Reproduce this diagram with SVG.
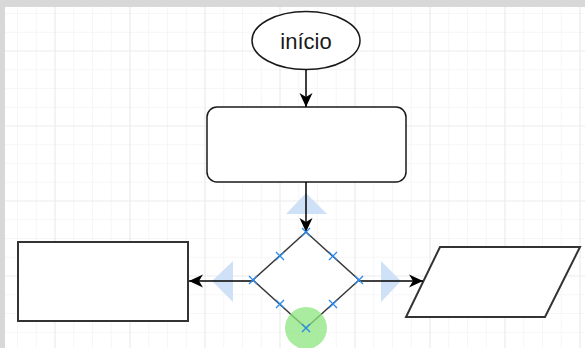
<svg xmlns="http://www.w3.org/2000/svg" width="585" height="348" viewBox="0 0 585 348">
  <defs>
    <style>
      .minor { stroke: #f6f6f6; stroke-width: 1; }
      .major { stroke: #ebebeb; stroke-width: 1.2; }
      .shape { fill: #ffffff; stroke: #1a1a1a; stroke-width: 1.5; }
      .heavy { fill: #ffffff; stroke: #333333; stroke-width: 2; }
      .edge { fill: none; stroke: #000000; stroke-width: 1.5; }
      .hint { fill: #cfe1f6; }
      .mark { stroke: #2b8ae8; stroke-width: 1.3; fill: none; }
      .label { font-family: "Liberation Sans", Arial, sans-serif; font-size: 22px; fill: #1a1a1a; }
    </style>
    <marker id="arrow" markerUnits="userSpaceOnUse" markerWidth="15" markerHeight="14" refX="14" refY="7" orient="auto">
      <path d="M0,0.5 L14,7 L0,13.5 L4,7 Z" fill="#000000"/>
    </marker>
  </defs>

  <rect x="0" y="0" width="585" height="348" fill="#d8d8d8"/>
  <rect x="5" y="7" width="580" height="341" fill="#ffffff"/>

  <g id="grid">
    <g class="minor">
      <line x1="17.5" y1="7" x2="17.5" y2="348"/>
      <line x1="36.25" y1="7" x2="36.25" y2="348"/>
      <line x1="73.75" y1="7" x2="73.75" y2="348"/>
      <line x1="92.5" y1="7" x2="92.5" y2="348"/>
      <line x1="111.25" y1="7" x2="111.25" y2="348"/>
      <line x1="148.75" y1="7" x2="148.75" y2="348"/>
      <line x1="167.5" y1="7" x2="167.5" y2="348"/>
      <line x1="186.25" y1="7" x2="186.25" y2="348"/>
      <line x1="223.75" y1="7" x2="223.75" y2="348"/>
      <line x1="242.5" y1="7" x2="242.5" y2="348"/>
      <line x1="261.25" y1="7" x2="261.25" y2="348"/>
      <line x1="298.75" y1="7" x2="298.75" y2="348"/>
      <line x1="317.5" y1="7" x2="317.5" y2="348"/>
      <line x1="336.25" y1="7" x2="336.25" y2="348"/>
      <line x1="373.75" y1="7" x2="373.75" y2="348"/>
      <line x1="392.5" y1="7" x2="392.5" y2="348"/>
      <line x1="411.25" y1="7" x2="411.25" y2="348"/>
      <line x1="448.75" y1="7" x2="448.75" y2="348"/>
      <line x1="467.5" y1="7" x2="467.5" y2="348"/>
      <line x1="486.25" y1="7" x2="486.25" y2="348"/>
      <line x1="523.75" y1="7" x2="523.75" y2="348"/>
      <line x1="542.5" y1="7" x2="542.5" y2="348"/>
      <line x1="561.25" y1="7" x2="561.25" y2="348"/>
      <line x1="5" y1="13.5" x2="585" y2="13.5"/>
      <line x1="5" y1="32.25" x2="585" y2="32.25"/>
      <line x1="5" y1="69.75" x2="585" y2="69.75"/>
      <line x1="5" y1="88.5" x2="585" y2="88.5"/>
      <line x1="5" y1="107.25" x2="585" y2="107.25"/>
      <line x1="5" y1="144.75" x2="585" y2="144.75"/>
      <line x1="5" y1="163.5" x2="585" y2="163.5"/>
      <line x1="5" y1="182.25" x2="585" y2="182.25"/>
      <line x1="5" y1="219.75" x2="585" y2="219.75"/>
      <line x1="5" y1="238.5" x2="585" y2="238.5"/>
      <line x1="5" y1="257.25" x2="585" y2="257.25"/>
      <line x1="5" y1="294.75" x2="585" y2="294.75"/>
      <line x1="5" y1="313.5" x2="585" y2="313.5"/>
      <line x1="5" y1="332.25" x2="585" y2="332.25"/>
    </g>
    <g class="major">
      <line x1="55" y1="7" x2="55" y2="348"/>
      <line x1="130" y1="7" x2="130" y2="348"/>
      <line x1="205" y1="7" x2="205" y2="348"/>
      <line x1="280" y1="7" x2="280" y2="348"/>
      <line x1="355" y1="7" x2="355" y2="348"/>
      <line x1="430" y1="7" x2="430" y2="348"/>
      <line x1="505" y1="7" x2="505" y2="348"/>
      <line x1="580" y1="7" x2="580" y2="348"/>
      <line x1="5" y1="51" x2="585" y2="51"/>
      <line x1="5" y1="126" x2="585" y2="126"/>
      <line x1="5" y1="201" x2="585" y2="201"/>
      <line x1="5" y1="276" x2="585" y2="276"/>
    </g>
  </g>

  <g id="hints">
    <polygon class="hint" points="306,193 286,214 327,214"/>
    <polygon class="hint" points="212,281 233,261 233,302"/>
    <polygon class="hint" points="401,281 381,261 381,302"/>
  </g>

  <g id="start">
    <ellipse class="shape" cx="306" cy="40.5" rx="54" ry="29"/>
    <text class="label" x="306" y="48.5" text-anchor="middle">início</text>
  </g>

  <g id="process">
    <rect class="shape" x="207" y="107" width="199" height="75" rx="10" ry="10"/>
  </g>

  <g id="left-box">
    <rect class="heavy" x="18" y="242" width="170" height="79"/>
  </g>

  <g id="output">
    <polygon class="heavy" points="440,247 580,247 545,317 406,317"/>
  </g>

  <g id="decision">
    <polygon points="306,232 359,280 306,328 253,280" fill="#ffffff" stroke="#3a3a3a" stroke-width="1.5"/>
  </g>

  <g id="connectors">
    <line class="edge" x1="306" y1="69.5" x2="306" y2="107" marker-end="url(#arrow)"/>
    <line class="edge" x1="306" y1="182" x2="306" y2="232" marker-end="url(#arrow)"/>
    <line class="edge" x1="253" y1="281" x2="189" y2="281" marker-end="url(#arrow)"/>
    <line class="edge" x1="359" y1="281" x2="423" y2="281" marker-end="url(#arrow)"/>
  </g>

  <g id="selection">
    <circle cx="306" cy="328" r="21" fill="#8ee57f" fill-opacity="0.75"/>
    <g class="mark">
      <path d="M302,228 L310,236 M310,228 L302,236"/>
      <path d="M249,276 L257,284 M257,276 L249,284"/>
      <path d="M355,276 L363,284 M363,276 L355,284"/>
      <path d="M302,324 L310,332 M310,324 L302,332"/>
      <path d="M276,252 L284,260 M284,252 L276,260"/>
      <path d="M329,252 L337,260 M337,252 L329,260"/>
      <path d="M276,300 L284,308 M284,300 L276,308"/>
      <path d="M329,300 L337,308 M337,300 L329,308"/>
    </g>
  </g>
</svg>
